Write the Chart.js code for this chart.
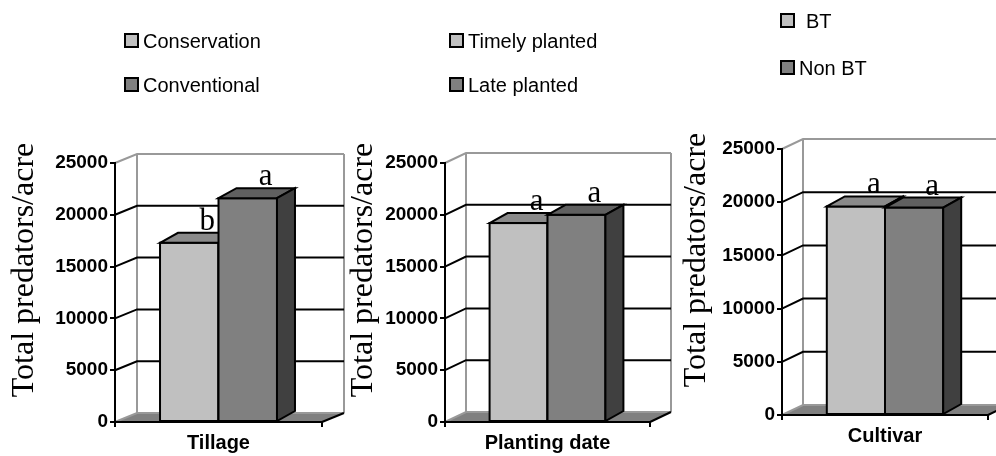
<!DOCTYPE html>
<html>
<head>
<meta charset="utf-8">
<script src="https://cdn.jsdelivr.net/npm/chart.js@4.4.1/dist/chart.umd.min.js"></script>
<style>
html, body { margin: 0; padding: 0; background: #fff; }
#wrap { position: relative; width: 996px; height: 456px; overflow: hidden; }
#wrap canvas { position: absolute; left: 0; top: 0; }
.lg { position: absolute; font: 20px "Liberation Sans", Arial, sans-serif; line-height: 20px; color: #000; white-space: nowrap; }
.bx { position: absolute; width: 15px; height: 15px; box-sizing: border-box; border: 2px solid #000; }
</style>
</head>
<body>
<div id="wrap">
  <canvas id="c0" width="996" height="456"></canvas>
  <canvas id="c1" width="996" height="456"></canvas>
  <canvas id="c2" width="996" height="456"></canvas>
</div>
<script>
// values
const groups = ['Tillage', 'Planting date', 'Cultivar'];
const firstSeries = ['Conservation', 'Timely planted', 'BT'];
const secondSeries = ['Conventional', 'Late planted', 'Non BT'];
const firstValues = [17300, 19200, 19600];
const secondValues = [21600, 20000, 19500];
const firstLetters = ['b', 'a', 'a'];
const secondLetters = ['a', 'a', 'a'];
const yMax = 25000;
const yStep = 5000;
const yTitle = 'Total predators/acre';

// page layout of each panel (front plane of the plot box, in px)
const panels = [
  { left: 115, right: 322, top: 163, bottom: 422, wall: [22, -9], titleX: 33, titleY: 270,
    boxX: 124, textX: [143, 143], rows: [40.5, 84.5] },
  { left: 445, right: 650, top: 163, bottom: 422, wall: [21, -10], titleX: 372, titleY: 270,
    boxX: 449, textX: [468, 468], rows: [40.5, 84.5] },
  { left: 782, right: 988, top: 149, bottom: 415, wall: [21, -10], titleX: 705, titleY: 260,
    boxX: 780, textX: [806, 799], rows: [20.5, 67.5] }
];

const lightFront = '#c0c0c0', lightTop = '#8a8a8a', lightSide = '#6a6a6a';
const darkFront = '#808080', darkTop = '#606060', darkSide = '#404040';
const wallGrey = '#999999';

function poly(ctx, pts, fill) {
  ctx.beginPath();
  ctx.moveTo(pts[0][0], pts[0][1]);
  for (let i = 1; i < pts.length; i++) ctx.lineTo(pts[i][0], pts[i][1]);
  ctx.closePath();
  if (fill) { ctx.fillStyle = fill; ctx.fill(); }
  ctx.stroke();
}

// fake 3D look: back wall, floor, bar tops and sides
const box3d = {
  id: 'box3d',
  beforeDraw(chart, args, o) {
    const ctx = chart.ctx;
    const { left: L, right: R, bottom: B } = chart.chartArea;
    const ys = chart.scales.y;
    const [dx, dy] = o.wall;
    const yTop = ys.getPixelForValue(yMax);
    ctx.save();
    ctx.lineWidth = 2;
    ctx.fillStyle = '#808080';
    ctx.beginPath();
    ctx.moveTo(L, B); ctx.lineTo(R, B); ctx.lineTo(R + dx, B + dy); ctx.lineTo(L + dx, B + dy);
    ctx.closePath();
    ctx.fill();
    ctx.strokeStyle = wallGrey;
    ctx.beginPath();
    ctx.moveTo(L + dx, yTop + dy); ctx.lineTo(L + dx, B + dy);
    ctx.moveTo(R + dx, yTop + dy); ctx.lineTo(R + dx, B + dy);
    ctx.stroke();
    ys.ticks.forEach(t => {
      const py = ys.getPixelForValue(t.value);
      ctx.strokeStyle = (t.value === yMax || t.value === 0) ? wallGrey : '#000';
      ctx.beginPath();
      ctx.moveTo(L, py); ctx.lineTo(L + dx, py + dy); ctx.lineTo(R + dx, py + dy);
      ctx.stroke();
    });
    ctx.strokeStyle = '#000';
    ctx.beginPath();
    ctx.moveTo(R, B); ctx.lineTo(R + dx, B + dy);
    ctx.stroke();
    ctx.restore();
  },
  afterDatasetsDraw(chart, args, o) {
    const ctx = chart.ctx;
    const [bx, by] = o.depth;
    ctx.save();
    ctx.lineWidth = 2;
    ctx.strokeStyle = '#000';
    const tops = [];
    chart.data.datasets.forEach((ds, i) => {
      chart.getDatasetMeta(i).data.forEach(el => {
        const { x, y, base, width } = el.getProps(['x', 'y', 'base', 'width'], true);
        const l = x - width / 2, r = x + width / 2;
        ctx.fillStyle = ds.backgroundColor;
        ctx.fillRect(l, y, width, base - y);
        ctx.strokeRect(l, y, width, base - y);
        poly(ctx, [[l, y], [l + bx, y + by], [r + bx, y + by], [r, y]], ds.topColor);
        poly(ctx, [[r, y], [r + bx, y + by], [r + bx, base + by], [r, base]], ds.sideColor);
        tops.push([x + 18, y + by - 3, ds.letter]);
      });
    });
    ctx.fillStyle = '#000';
    ctx.font = '31px "Liberation Serif", "Times New Roman", serif';
    ctx.textAlign = 'center';
    ctx.textBaseline = 'alphabetic';
    tops.forEach(t => ctx.fillText(t[2], t[0], t[1]));
    ctx.restore();
  },
  afterDraw(chart, args, o) {
    const ctx = chart.ctx;
    ctx.save();
    ctx.translate(o.titleX, o.titleY);
    ctx.rotate(-Math.PI / 2);
    ctx.fillStyle = '#000';
    ctx.font = '32px "Liberation Serif", "Times New Roman", serif';
    ctx.textAlign = 'center';
    ctx.textBaseline = 'alphabetic';
    ctx.fillText(yTitle, 0, 0);
    ctx.restore();
  }
};

const wrap = document.getElementById('wrap');

panels.forEach((p, i) => {
  new Chart(document.getElementById('c' + i), {
    type: 'bar',
    data: {
      labels: [groups[i]],
      datasets: [
        { label: firstSeries[i], data: [firstValues[i]], backgroundColor: lightFront,
          topColor: lightTop, sideColor: lightSide, letter: firstLetters[i],
          borderColor: '#000', borderWidth: 2, borderSkipped: false,
          categoryPercentage: 0.565, barPercentage: 1 },
        { label: secondSeries[i], data: [secondValues[i]], backgroundColor: darkFront,
          topColor: darkTop, sideColor: darkSide, letter: secondLetters[i],
          borderColor: '#000', borderWidth: 2, borderSkipped: false,
          categoryPercentage: 0.565, barPercentage: 1 }
      ]
    },
    options: {
      responsive: false,
      animation: false,
      events: [],
      layout: { padding: { left: 0, top: p.top, right: 996 - p.right, bottom: 0 } },
      plugins: {
        legend: { display: false },
        tooltip: { enabled: false },
        box3d: { wall: p.wall, depth: [18, -10], titleX: p.titleX, titleY: p.titleY }
      },
      scales: {
        x: {
          ticks: { color: '#000', padding: 4,
                   font: { family: '"Liberation Sans", Arial, sans-serif', size: 20, weight: 'bold' } },
          grid: { drawOnChartArea: false, color: '#000', lineWidth: 2, tickLength: 5 },
          border: { color: '#000', width: 2 },
          afterFit(s) { s.height = 456 - p.bottom; }
        },
        y: {
          min: 0,
          max: yMax,
          ticks: { stepSize: yStep, color: '#000', padding: 2, callback: v => String(v),
                   font: { family: '"Liberation Sans", Arial, sans-serif', size: 19, weight: 'bold' } },
          grid: { drawOnChartArea: false, color: '#000', lineWidth: 2, tickLength: 5 },
          border: { color: '#000', width: 2 },
          afterFit(s) { s.width = p.left; }
        }
      }
    },
    plugins: [box3d]
  });

  // legend for the panel
  [[firstSeries[i], lightFront], [secondSeries[i], darkFront]].forEach((item, k) => {
    const bx = document.createElement('div');
    bx.className = 'bx';
    bx.style.left = p.boxX + 'px';
    bx.style.top = (p.rows[k] - 7.5) + 'px';
    bx.style.background = item[1];
    wrap.appendChild(bx);
    const tx = document.createElement('div');
    tx.className = 'lg';
    tx.style.left = p.textX[k] + 'px';
    tx.style.top = (p.rows[k] - 10) + 'px';
    tx.textContent = item[0];
    wrap.appendChild(tx);
  });
});
</script>
</body>
</html>
